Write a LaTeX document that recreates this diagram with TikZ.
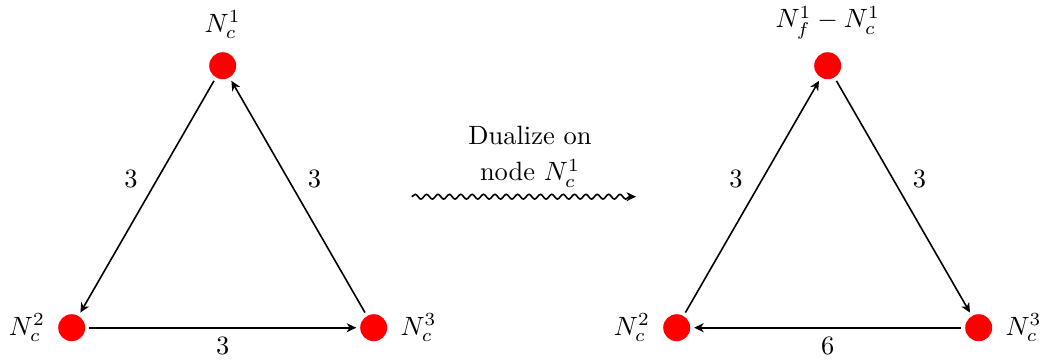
\documentclass[tikz,border=0pt]{standalone}
\usetikzlibrary{decorations.pathmorphing,arrows.meta}
\begin{document}
\begin{tikzpicture}[x=0.378pt,y=-0.378pt,
  tip/.tip={Stealth[length=3.6pt,width=3.4pt,inset=1.1pt]},
  vtx/.style={circle,fill=red,inner sep=0pt,minimum size=10.2pt,outer sep=1.5pt},
  edgearrow/.style={-tip,line width=0.6pt},
  wavy/.style={-tip,line width=0.6pt,decorate,decoration={snake,amplitude=0.9pt,segment length=4.3pt,post length=2.5pt}}]
\useasboundingbox (0,0) rectangle (1046,362);
% left quiver
\node[vtx,label=above:{$N_c^1$}] (a1) at (222.7,65.7) {};
\node[vtx,label=left:{$N_c^2$}] (a2) at (71.7,327.7) {};
\node[vtx,label=right:{$N_c^3$}] (a3) at (373.7,327.7) {};
\draw[edgearrow] (a1) -- node[above left] {$3$} (a2);
\draw[edgearrow] (a2) -- node[below] {$3$} (a3);
\draw[edgearrow] (a3) -- node[above right] {$3$} (a1);
% arrow
\coordinate (ws) at (411.7,196.7);
\coordinate (we) at (636,196.7);
\draw[wavy] (ws) -- (we);
\node[align=center] (txt) at (530,157) {Dualize on\\[1.6pt] node $N_c^1$};
% right quiver
\node[vtx,label=above:{$N_f^1-N_c^1$}] (b1) at (827.7,65.7) {};
\node[vtx,label=left:{$N_c^2$}] (b2) at (676.7,327.7) {};
\node[vtx,label=right:{$N_c^3$}] (b3) at (978.7,327.7) {};
\draw[edgearrow] (b2) -- node[above left] {$3$} (b1);
\draw[edgearrow] (b1) -- node[above right] {$3$} (b3);
\draw[edgearrow] (b3) -- node[below] {$6$} (b2);
\end{tikzpicture}
\end{document}
